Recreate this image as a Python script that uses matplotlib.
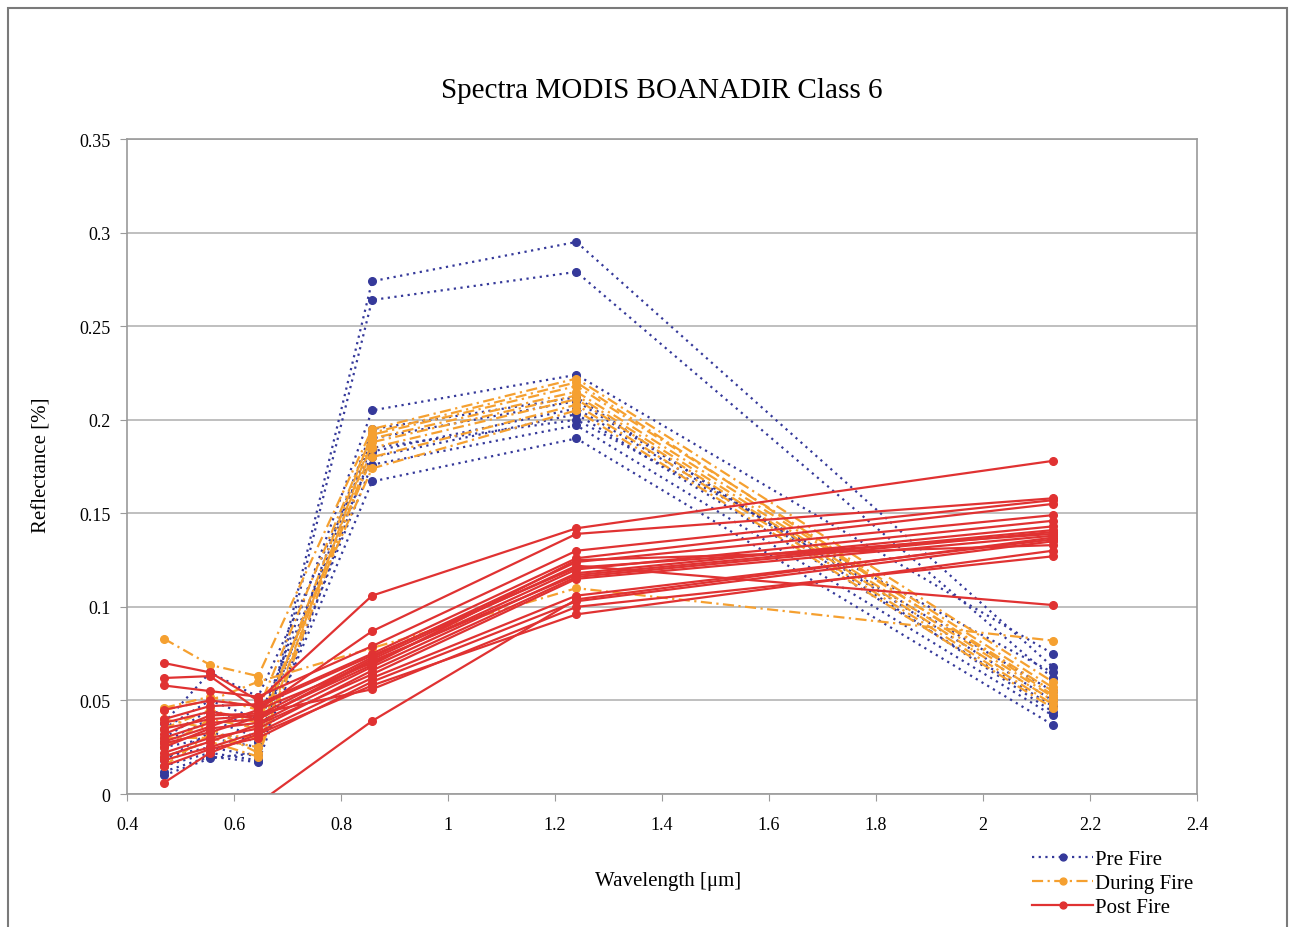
import matplotlib.pyplot as plt
from matplotlib.patches import Rectangle

plt.rcParams['font.family'] = ['Liberation Serif', 'DejaVu Serif']

# MODIS band centres [um]
wavelengths = [0.469, 0.555, 0.645, 0.858, 1.24, 2.13]

pre_fire = [
    [0.020, 0.025, 0.020, 0.274, 0.295, 0.068],
    [0.015, 0.022, 0.018, 0.264, 0.279, 0.062],
    [0.030, 0.045, 0.035, 0.205, 0.224, 0.075],
    [0.012, 0.020, 0.017, 0.183, 0.206, 0.055],
    [0.035, 0.050, 0.040, 0.180, 0.203, 0.047],
    [0.025, 0.030, 0.025, 0.176, 0.197, 0.042],
    [0.010, 0.019, 0.022, 0.167, 0.190, 0.037],
    [0.028, 0.040, 0.030, 0.190, 0.210, 0.050],
    [0.018, 0.033, 0.028, 0.195, 0.212, 0.044],
    [0.038, 0.065, 0.052, 0.185, 0.200, 0.065],
]

during_fire = [
    [0.083, 0.069, 0.063, 0.195, 0.222, 0.060],
    [0.046, 0.052, 0.045, 0.192, 0.218, 0.057],
    [0.040, 0.035, 0.022, 0.190, 0.215, 0.055],
    [0.030, 0.030, 0.025, 0.188, 0.213, 0.052],
    [0.020, 0.028, 0.020, 0.185, 0.211, 0.050],
    [0.025, 0.040, 0.035, 0.180, 0.208, 0.048],
    [0.035, 0.045, 0.038, 0.174, 0.205, 0.046],
    [0.045, 0.050, 0.060, 0.078, 0.110, 0.082],
    [0.015, 0.032, 0.030, 0.193, 0.220, 0.053],
]

post_fire = [
    [0.070, 0.065, 0.050, 0.106, 0.142, 0.178],
    [0.062, 0.063, 0.045, 0.087, 0.139, 0.158],
    [0.058, 0.055, 0.052, 0.079, 0.130, 0.157],
    [0.040, 0.047, 0.048, 0.075, 0.126, 0.155],
    [0.035, 0.040, 0.042, 0.073, 0.124, 0.149],
    [0.030, 0.038, 0.040, 0.072, 0.122, 0.101],
    [0.028, 0.036, 0.045, 0.070, 0.120, 0.146],
    [0.025, 0.035, 0.038, 0.068, 0.118, 0.143],
    [0.022, 0.030, 0.035, 0.066, 0.116, 0.140],
    [0.020, 0.028, 0.037, 0.064, 0.115, 0.138],
    [0.018, 0.025, 0.033, 0.062, 0.106, 0.136],
    [0.015, 0.024, 0.030, 0.060, 0.103, 0.135],
    [0.006, 0.022, 0.032, 0.058, 0.096, 0.130],
    [0.032, 0.042, 0.043, 0.056, 0.100, 0.127],
    [0.045, 0.050, 0.047, 0.074, 0.121, 0.139],
    [-0.030, -0.020, -0.005, 0.039, 0.104, 0.137],
    [0.038, 0.044, 0.040, 0.071, 0.117, 0.141],
    [0.027, 0.033, 0.041, 0.069, 0.125, 0.133],
]

groups = [
    ("Pre Fire", pre_fire, "#35399a", (0, (1, 2))),
    ("During Fire", during_fire, "#f5a030", (0, (5, 2, 1, 2))),
    ("Post Fire", post_fire, "#e03232", "-"),
]

fig = plt.figure(figsize=(12.91, 9.28), dpi=100)
ax = fig.add_axes([0.0984, 0.1433, 0.8288, 0.7058])

handles = []
for name, series, color, ls in groups:
    for i, vals in enumerate(series):
        ln, = ax.plot(wavelengths, vals, color=color, linestyle=ls, linewidth=1.6,
                      marker="o", markersize=5.5)
        if i == 0:
            handles.append(ln)

ax.set_xlim(0.4, 2.4)
ax.set_ylim(0, 0.35)
ax.set_xticks([0.4, 0.6, 0.8, 1, 1.2, 1.4, 1.6, 1.8, 2, 2.2, 2.4])
ax.set_xticklabels(["0.4", "0.6", "0.8", "1", "1.2", "1.4", "1.6", "1.8", "2", "2.2", "2.4"])
ax.set_yticks([0, 0.05, 0.1, 0.15, 0.2, 0.25, 0.3, 0.35])
ax.set_yticklabels(["0", "0.05", "0.1", "0.15", "0.2", "0.25", "0.3", "0.35"])
ax.yaxis.grid(True, color="#b4b4b4", linewidth=1.2)
ax.set_axisbelow(True)
for s in ax.spines.values():
    s.set_color("#9a9a9a")
    s.set_linewidth(1.2)
ax.tick_params(axis="both", direction="out", length=5, color="#9a9a9a", labelsize=13)
ax.tick_params(axis="x", pad=11)
ax.tick_params(axis="y", pad=7)

ax.set_title("Spectra MODIS BOANADIR Class 6", fontsize=21, pad=30)
ax.set_xlabel("Wavelength [\u03bcm]", fontsize=15)
ax.xaxis.set_label_coords(0.5056, -0.118)
ax.set_ylabel("Reflectance [%]", fontsize=15)
ax.yaxis.set_label_coords(-0.071, 0.504)

fig.legend(handles, [g[0] for g in groups], loc="upper left",
           bbox_to_anchor=(1022 / 1291, 1 - 840 / 928), frameon=False,
           fontsize=15, handlelength=2.9, handletextpad=0.1, labelspacing=0.22,
           borderpad=0, markerscale=0.9)

# outer frame around the whole figure
fig.add_artist(Rectangle((8 / 1291, -0.02), 1279 / 1291, 1 - 9 / 928 + 0.02,
                         transform=fig.transFigure, fill=False,
                         edgecolor="#7a7a7a", linewidth=1.5))

fig.savefig("out.png", dpi=100)
